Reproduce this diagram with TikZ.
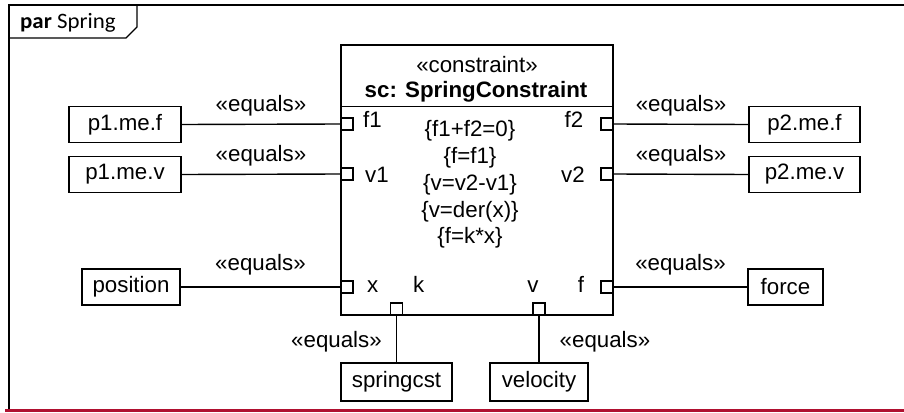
\documentclass[tikz,border=0pt]{standalone}
\usepackage{fontspec}
\setmainfont{Liberation Sans}
\newfontfamily\tabfont[FakeStretch=1.04]{Carlito}
\definecolor{framered}{RGB}{176,16,48}
\begin{document}
\begin{tikzpicture}[x=1pt,y=-1pt,
  every node/.style={font=\fontsize{22.3}{26.8}\selectfont, inner sep=0pt},
  valbox/.style={draw, line width=1.4pt, minimum height=36pt},
  port/.style={draw, line width=1.4pt, minimum size=12pt, fill=white},
  conn/.style={line width=1.4pt},
  plabel/.style={anchor=base},
  eqlabel/.style={midway}
]
\useasboundingbox (0,0) rectangle (904,412);
% frame
\draw[line width=2pt] (9,410) -- (9,5) -- (904,5);
\draw[line width=1.4pt] (9,38) -- (126,38) -- (137,27) -- (137,5);
\node[anchor=base west, font=\tabfont\fontsize{22}{24}\selectfont] (tab) at (20,29) {\textbf{par} Spring};
\draw[framered, line width=3pt] (5,410) -- (904,410);

% constraint block
\node[draw, line width=1.6pt, minimum width=272pt, minimum height=270pt] (sc) at (477,180) {};
\draw[line width=1.4pt] ([yshift=-62pt]sc.north west) -- ([yshift=-62pt]sc.north east);
\node (st) at (477,65) {«constraint»};
\node (sn) at (476,92) {\bfseries sc: SpringConstraint};

\node[plabel] (c1) at (470,136) {\{f1+f2=0\}};
\node[plabel] (c2) at (470,163) {\{f=f1\}};
\node[plabel] (c3) at (470,190) {\{v=v2-v1\}};
\node[plabel] (c4) at (470,217) {\{v=der(x)\}};
\node[plabel] (c5) at (470,243) {\{f=k*x\}};

% ports
\node[port] (pf1) at (347,124) {};
\node[port] (pv1) at (347,174) {};
\node[port] (px) at (347,287) {};
\node[port] (pf2) at (607,124) {};
\node[port] (pv2) at (607,174) {};
\node[port] (pf) at (607,287) {};
\node[port] (pk) at (396.5,309) {};
\node[port] (pv) at (539,309) {};

% port labels
\node[anchor=base west] (lf1) at (363,127) {f1};
\node[anchor=base west] (lv1) at (365,182) {v1};
\node[anchor=base west] (lx) at (367,292) {x};
\node[anchor=base west] (lk) at (413,292) {k};
\node[plabel] (lv) at (533,292) {v};
\node[plabel] (lf) at (581,292) {f};
\node[plabel] (lf2) at (574,127) {f2};
\node[plabel] (lv2) at (573,182) {v2};

% value boxes
\node[valbox, minimum width=112pt] (p1f) at (125,124.5) {p1.me.f};
\node[valbox, minimum width=112pt] (p1v) at (125,174.5) {p1.me.v};
\node[valbox, minimum width=98pt] (pos) at (131,287) {position};
\node[valbox, minimum width=111pt] (p2f) at (804.5,124.5) {p2.me.f};
\node[valbox, minimum width=111pt] (p2v) at (804.5,174.5) {p2.me.v};
\node[valbox, minimum width=75pt] (frc) at (785.5,287) {force};
\node[valbox, minimum width=111pt, minimum height=38pt] (spc) at (396.5,382) {springcst};
\node[valbox, minimum width=98pt, minimum height=38pt] (vel) at (539,382) {velocity};

% connectors
\draw[conn] (p1f.east) -- (pf1.west) node[eqlabel, yshift=19pt] (e1) {«equals»};
\draw[conn] (p1v.east) -- (pv1.west) node[eqlabel, yshift=19pt] (e2) {«equals»};
\draw[conn] (pos.east) -- (px.west) node[eqlabel, yshift=22pt] (e3) {«equals»};
\draw[conn] (pf2.east) -- (p2f.west) node[eqlabel, yshift=19pt] (e4) {«equals»};
\draw[conn] (pv2.east) -- (p2v.west) node[eqlabel, yshift=19pt] (e5) {«equals»};
\draw[conn] (pf.east) -- (frc.west) node[eqlabel, yshift=22pt] (e6) {«equals»};
\draw[conn] (pk.south) -- (spc.north) node[eqlabel, xshift=-60pt, yshift=-3pt] (e7) {«equals»};
\draw[conn] (pv.south) -- (vel.north) node[eqlabel, xshift=66pt, yshift=-3pt] (e8) {«equals»};
\end{tikzpicture}
\end{document}
